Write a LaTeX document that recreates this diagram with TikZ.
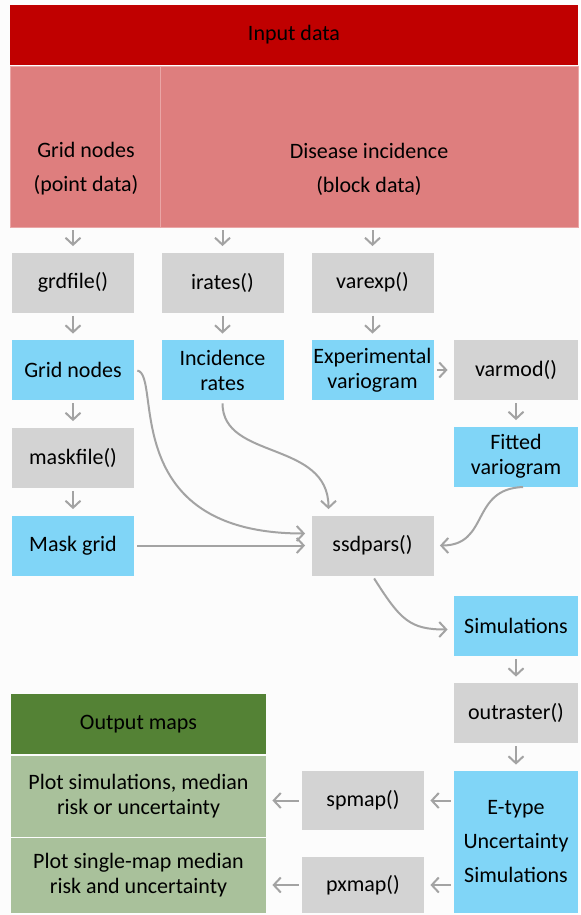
\documentclass[tikz,border=0pt]{standalone}
\usepackage{fontspec}
\setmainfont{Carlito}
\usepackage{tikz}
\usetikzlibrary{arrows.meta}
\definecolor{inred}{HTML}{C00000}
\definecolor{inpink}{HTML}{DE7E7E}
\definecolor{pinkline}{HTML}{EAA6A6}
\definecolor{fngray}{HTML}{D3D3D3}
\definecolor{datablue}{HTML}{80D5F7}
\definecolor{outdark}{HTML}{548235}
\definecolor{outlight}{HTML}{A9C19B}
\definecolor{flowgray}{HTML}{A3A3A3}
\definecolor{bgwhite}{HTML}{FCFCFC}

\begin{document}
\begin{tikzpicture}[
  x=0.5pt, y=-0.5pt,
  font=\fontsize{11}{12.5}\selectfont,
  box/.style={rectangle,inner sep=0pt,align=center,minimum width=61pt,minimum height=30pt},
  fnbox/.style={box,fill=fngray},
  databox/.style={box,fill=datablue},
  outbox/.style={box,fill=outlight,minimum width=127.5pt},
  widelines/.style={font=\fontsize{11}{17}\selectfont},
  flow/.style={draw=flowgray,line width=1pt,-{Straight Barb[length=3.5pt,width=7.5pt]},shorten <=1.5pt,shorten >=3pt}
]

\useasboundingbox[fill=bgwhite] (0,0) rectangle (580,915);

\node[box,fill=inred,minimum width=284pt] (input) at (294,35) {Input data};
\node[box,fill=inpink,draw=pinkline,minimum width=75pt,minimum height=80.5pt] (gridin) at (85,146.5) {};
\node[box,fill=inpink,draw=pinkline,minimum width=209pt,minimum height=80.5pt] (diseasein) at (369,146.5) {};
\node[align=center,widelines] (gridtxt) at (86,169) {Grid nodes\\(point data)};
\node[align=center,widelines] (diseasetxt) at (369,169) {Disease incidence\\(block data)};

\node[fnbox] (grdfile) at (73,282.5) {grdfile()};
\node[fnbox] (irates) at (222.5,282.5) {irates()};
\node[fnbox] (varexp) at (372.5,282.5) {varexp()};

\node[databox] (gridnodes) at (73,370) {Grid nodes};
\node[databox] (incrates) at (222.5,370) {Incidence\\rates};
\node[databox] (expvar) at (372.5,370) {Experimental\\variogram};
\node[fnbox,minimum width=62pt] (varmod) at (516,370) {varmod()};

\node[fnbox] (maskfile) at (73,457.5) {maskfile()};
\node[databox,minimum width=62pt] (fitted) at (516,456.5) {Fitted\\variogram};

\node[databox] (maskgrid) at (73,545.5) {Mask grid};
\node[fnbox] (ssdpars) at (372.5,545.5) {ssdpars()};

\node[databox,minimum width=62pt] (sims) at (516,625.5) {Simulations};
\node[fnbox,minimum width=62pt] (outraster) at (516,713) {outraster()};
\node[databox,widelines,minimum width=62pt,minimum height=71pt] (etype) at (516,842) {E-type\\Uncertainty\\Simulations};

\node[fnbox,minimum height=29.5pt] (spmap) at (363,800.5) {spmap()};
\node[fnbox,minimum height=28pt] (pxmap) at (363,885) {pxmap()};

\node[box,fill=outdark,minimum width=127.5pt] (outmaps) at (138.5,724) {Output maps};
\node[outbox,minimum height=40.5pt] (plotsim) at (138.5,796.5) {Plot simulations, median\\risk or uncertainty};
\node[outbox,minimum height=37.5pt] (plotsingle) at (138.5,875.5) {Plot single-map median\\risk and uncertainty};

\draw[flow] (grdfile |- gridin.south) -- (grdfile);
\draw[flow] (irates |- diseasein.south) -- (irates);
\draw[flow] (varexp |- diseasein.south) -- (varexp);
\draw[flow] (grdfile) -- (gridnodes);
\draw[flow] (irates) -- (incrates);
\draw[flow] (varexp) -- (expvar);
\draw[flow] (expvar) -- (varmod);
\draw[flow] (varmod) -- (fitted);
\draw[flow] (gridnodes) -- (maskfile);
\draw[flow] (maskfile) -- (maskgrid);
\draw[flow] (maskgrid) -- (ssdpars);

\draw[flow] (gridnodes.east) .. controls +(28,5) and +(-195,0) .. ([yshift=6pt]ssdpars.west);
\draw[flow] (incrates.south) .. controls +(0,60) and +(0,-75) .. ([xshift=-22pt]ssdpars.north);
\draw[flow] ([xshift=5pt]fitted.south) .. controls +(-56,2) and +(56,0) .. (ssdpars.east);
\draw[flow] (ssdpars.south) .. controls +(28,44) and +(-44,0) .. ([yshift=-2pt]sims.west);

\draw[flow] (sims) -- (outraster);
\draw[flow] (outraster) -- (etype);
\draw[flow] (etype.west |- spmap) -- (spmap);
\draw[flow] (spmap) -- (spmap -| plotsim.east);
\draw[flow] (etype.west |- pxmap) -- (pxmap);
\draw[flow] (pxmap) -- (pxmap -| plotsingle.east);

\end{tikzpicture}
\end{document}
